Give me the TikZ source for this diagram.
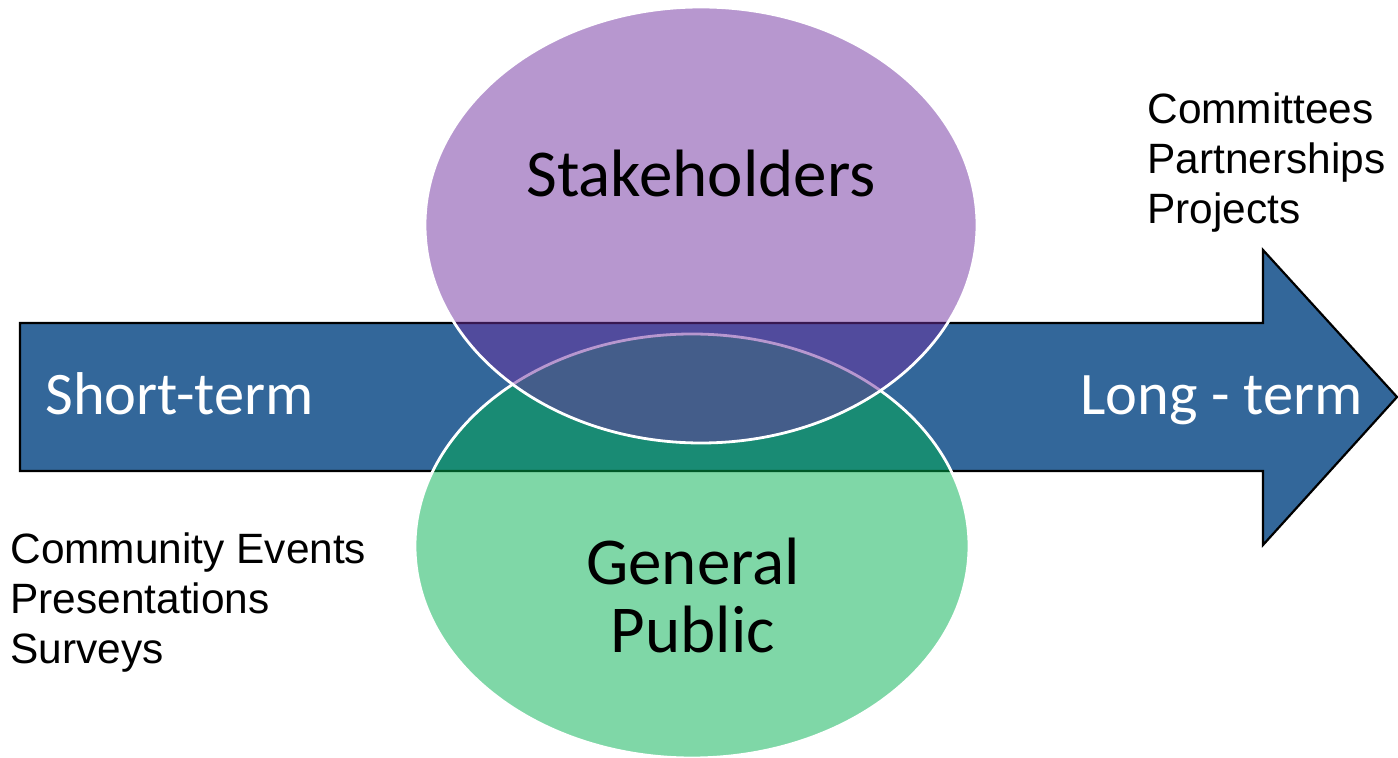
\documentclass[tikz,border=0pt]{standalone}
\usepackage{fontspec}
\setmainfont{Liberation Sans}
\newfontfamily\calfont{Carlito}
\usetikzlibrary{calc}
\definecolor{arrowblue}{RGB}{51,103,154}
\definecolor{stakepurple}{RGB}{112,48,160}
\definecolor{publicgreen}{RGB}{0,176,80}
\tikzset{
    bubble/.style={draw=white,line width=1.4pt,fill opacity=0.5},        % half see-through circles
    bandlabel/.style={text=white,inner sep=0pt,anchor=base west,
                      font=\calfont\fontsize{30.2}{36}\selectfont},
    bubblelabel/.style={inner sep=0pt,align=center,
                        font=\calfont\fontsize{33.5}{34}\selectfont},
    sidelist/.style={inner sep=0pt,align=left,anchor=north west,
                     font=\fontsize{21.2}{25}\selectfont}
}

\begin{document}
\begin{tikzpicture}[x=0.5pt,y=-0.5pt]
                \useasboundingbox (0,0) rectangle (1398,758);
                    \draw[fill=arrowblue,line width=1.1pt] (20,323) -- (1263,323) -- (1263,250) -- (1397,397)
                        -- (1263,545) -- (1263,471) -- (20,471) -- cycle;

                    \draw[bubble,fill=publicgreen] (692,546) ellipse [x radius=277,y radius=212];
                    \draw[bubble,fill=stakepurple] (701,225) ellipse [x radius=276,y radius=218];

                    \node[bandlabel] (short) at (45,415) {Short-term};
                    \node[bandlabel] (long) at (1080,415) {Long - term};
                    \node[bubblelabel,anchor=base] (stake) at (701,197) {Stakeholders};
                    \node[bubblelabel] (public) at (693,595) {General\\Public};

                    \node[sidelist] (shortlist) at (10,532) {Community Events\\Presentations\\Surveys};
                    \node[sidelist] (longlist) at (1147,92) {Committees\\Partnerships\\Projects};
            \end{tikzpicture}
\end{document}
